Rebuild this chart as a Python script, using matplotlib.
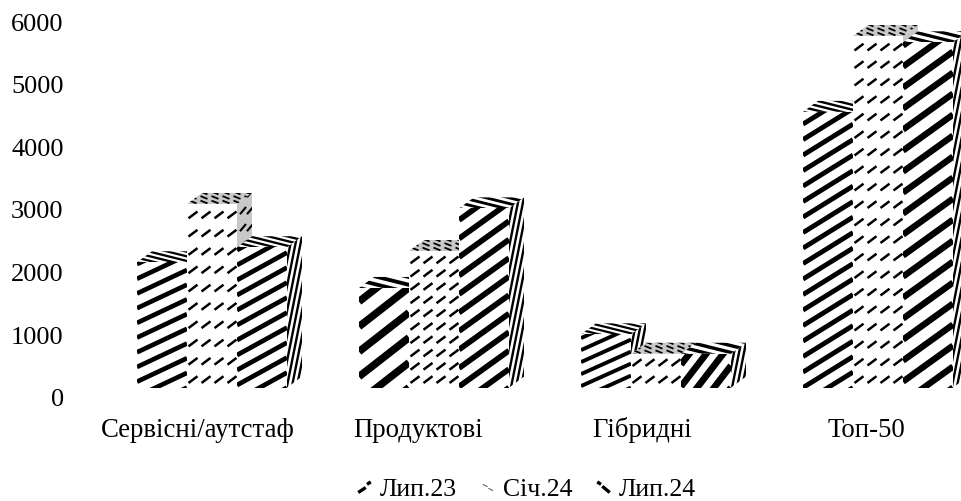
import numpy as np
import matplotlib
matplotlib.use("Agg")
import matplotlib.pyplot as plt
from matplotlib.collections import LineCollection
from matplotlib.lines import Line2D
from matplotlib.patches import Polygon
from matplotlib.path import Path
from matplotlib.transforms import IdentityTransform

plt.rcParams['font.family'] = ['Liberation Serif', 'DejaVu Serif']

categories = ["Сервісні/аутстаф", "Продуктові", "Гібридні", "Топ-50"]
series_names = ["Лип.23", "Січ.24", "Лип.24"]
lip23 = [2150, 1740, 1000, 4550]
sich24 = [3080, 2330, 690, 5760]
lip24 = [2390, 3010, 690, 5660]
y_ticks = [0, 1000, 2000, 3000, 4000, 5000, 6000]
floor_value = 150
label_shift = [-0.063, -0.072, -0.063, -0.054]

# texture of each bar as it appears in the picture (slope, spacing in px)
tex_lip23 = [(0.47, 14.7), (0.78, 25), (0.45, 12), (0.62, 15.5)]
tex_lip24 = [(0.55, 15), (0.72, 18.5), (1.3, 22), (0.72, 21)]
rows_sich24 = [18.3, 13.3, 17, 17.5]

W, H = 961, 502
fig = plt.figure(figsize=(W / 100, H / 100), dpi=100, facecolor='white')
L, R, B, T = 72, 961, H - 398, H - 22
ax = fig.add_axes([L / W, B / H, (R - L) / W, (T - B) / H])
px_per_cat = 222.0
first_center_px = 212.0
ax.set_xlim((L - first_center_px) / px_per_cat, (R - first_center_px) / px_per_cat)
ax.set_ylim(0, 6000)
for s in ax.spines.values():
    s.set_visible(False)
bar_w = 50 / px_per_cat
depth_x = 15 / px_per_cat
depth_y = 11 * 6000 / 376


def add_lines(segs, clip, lw, color='black'):
    lc = LineCollection(segs, colors=color, linewidths=lw, capstyle='butt',
                        transform=IdentityTransform(), zorder=clip.get_zorder())
    ax.add_collection(lc, autolim=False)
    lc.set_clip_path(clip)


def bbox_px(patch):
    pts = patch.get_path().vertices
    pts = patch.get_patch_transform().transform(pts)
    pts = ax.transData.transform(pts)
    return pts[:, 0].min(), pts[:, 0].max(), pts[:, 1].min(), pts[:, 1].max()


def stripes(patch, slope, spacing, lw_pts):
    x0, x1, y0, y1 = bbox_px(patch)
    w = x1 - x0
    lo = min(y0, y0 - slope * w)
    hi = max(y1, y1 - slope * w)
    segs = [[(x0, c), (x1, c + slope * w)]
            for c in np.arange(lo - spacing, hi + spacing, spacing)]
    add_lines(segs, patch, lw_pts)


def steep(patch, slope, spacing, lw_pts):
    x0, x1, y0, y1 = bbox_px(patch)
    h = y1 - y0
    segs = [[(c, y0), (c + h / slope, y1)]
            for c in np.arange(x0 - h / slope - spacing, x1 + spacing, spacing)]
    add_lines(segs, patch, lw_pts)


def dashes(patch, row_gap, col_gap, lw_pts, slope=0.6, length=8, start=7):
    x0, x1, y0, y1 = bbox_px(patch)
    segs = []
    for ry in np.arange(y0 + start, y1 + row_gap, row_gap):
        for cx in np.arange(x0 + 6, x1, col_gap):
            dx = length / 2
            segs.append([(cx - dx, ry - dx * slope), (cx + dx, ry + dx * slope)])
    add_lines(segs, patch, lw_pts)


def add_poly(pts, z, fc='white'):
    p = Polygon(pts, closed=True, facecolor=fc, edgecolor='none', zorder=z)
    ax.add_patch(p)
    return p


z = 2.0
all_series = [lip23, sich24, lip24]
for i in range(len(categories)):
    for k, series in enumerate(all_series):
        v = series[i]
        x = i + (k - 1) * bar_w - bar_w / 2
        xr = x + bar_w
        fc = '#c8c8c8' if k == 1 else 'white'
        top = add_poly([(x, v), (xr, v), (xr + depth_x, v + depth_y), (x + depth_x, v + depth_y)], z, fc)
        side = add_poly([(xr, floor_value), (xr + depth_x, floor_value + depth_y),
                         (xr + depth_x, v + depth_y), (xr, v)], z, fc)
        if k == 1:
            dashes(top, 4.5, 11, 1.3, slope=-0.4, length=7, start=2)
            dashes(side, 17, 7, 1.5, slope=1.2, length=6)
        else:
            slope, spacing = (tex_lip23 if k == 0 else tex_lip24)[i]
            stripes(top, -0.25, max(4.5, spacing / 3.2), max(1.6, spacing / 9))
            steep(side, 5.0, 5.0, 1.7)
        z += 0.1
        front = ax.bar(x, v - floor_value, width=bar_w, bottom=floor_value, align='edge',
                       facecolor='white', edgecolor='none', zorder=z)[0]
        if k == 1:
            dashes(front, rows_sich24[i], 13, 1.8, slope=0.75, length=9, start=8)
        else:
            stripes(front, slope, spacing, 0.2 * spacing + 0.4)
        z += 0.1

ax.set_yticks(y_ticks)
ax.set_xticks([i + s for i, s in enumerate(label_shift)])
ax.set_xticklabels(categories)
ax.tick_params(axis='both', length=0, colors='black')
ax.tick_params(axis='y', pad=6, labelsize=19)
ax.tick_params(axis='x', pad=28, labelsize=19.3)
for t in ax.get_xticklabels():
    t.set_verticalalignment('baseline')

mark_a = Path([(-1, -0.8), (0.2, 0.0), (0.4, 0.5), (1, 0.9)],
              [Path.MOVETO, Path.LINETO, Path.MOVETO, Path.LINETO])
mark_b = Path([(-0.6, 0.4), (0.0, 0.1), (0.1, -0.1), (0.7, -0.4)],
              [Path.MOVETO, Path.LINETO, Path.MOVETO, Path.LINETO])
mark_c = Path([(-1, 0.9), (-0.4, 0.5), (-0.2, 0.2), (1, -0.8)],
              [Path.MOVETO, Path.LINETO, Path.MOVETO, Path.LINETO])
handles = [
    Line2D([], [], linestyle='none', marker=mark_a, markersize=9, markerfacecolor='none',
           markeredgecolor='black', markeredgewidth=2.4),
    Line2D([], [], linestyle='none', marker=mark_b, markersize=8, markerfacecolor='none',
           markeredgecolor='#777777', markeredgewidth=0.9),
    Line2D([], [], linestyle='none', marker=mark_c, markersize=9, markerfacecolor='none',
           markeredgecolor='black', markeredgewidth=2.4),
]
fig.legend(handles, series_names, ncol=3, frameon=False, fontsize=18.5,
           loc='center', bbox_to_anchor=(526 / W, (H - 490) / H),
           handlelength=0.6, handletextpad=0.3, columnspacing=0.9,
           borderaxespad=0, borderpad=0)

fig.savefig('out.png', dpi=100, facecolor='white')
